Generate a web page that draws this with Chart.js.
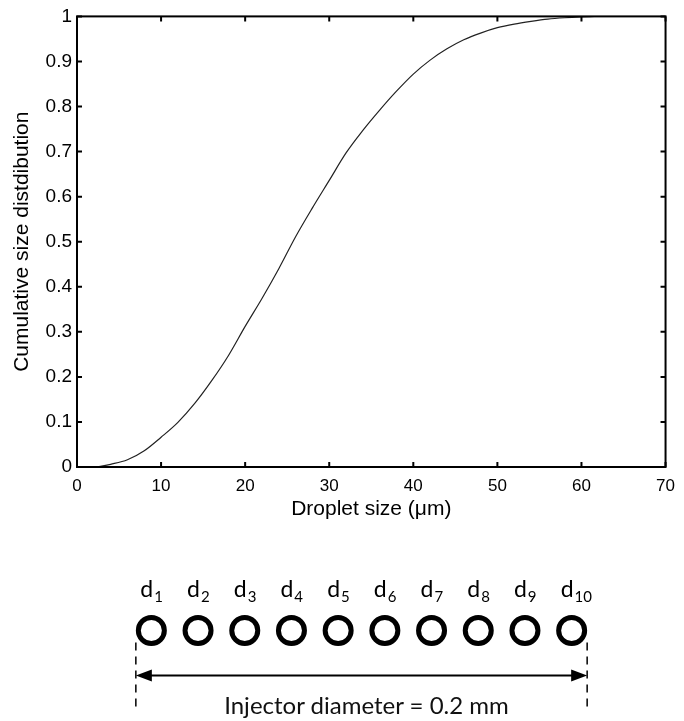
<!DOCTYPE html>
<html>
<head>
<meta charset="utf-8">
<script src="https://cdn.jsdelivr.net/npm/chart.js@4.4.1/dist/chart.umd.min.js"></script>
<style>
  body { margin: 0; background: #fff; }
  #wrap { position: relative; width: 684px; height: 721px; overflow: hidden; }
  #sizeChart { position: absolute; left: 0; top: 0; }
  #dropChart { position: absolute; left: 0; top: 540px; }
  #injLabel { position: absolute; left: 0; width: 733px; top: 693px; text-align: center;
              font: 24px Lato; line-height: 24px; color: #111; }
</style>
</head>
<body>
<div id="wrap">
  <canvas id="sizeChart" width="684" height="530"></canvas>
  <canvas id="dropChart" width="684" height="181"></canvas>
  <div id="injLabel">Injector diameter = 0.2 mm</div>
</div>
<script>
// cumulative droplet size distribution
const dropletSize = [2.4, 4, 6, 8, 10, 12, 14, 16, 18, 20, 22, 24, 26, 28, 30, 32, 34, 36, 38, 40,
                     42, 44, 46, 48, 50, 52, 54, 56, 58, 60, 61.5];
const cumulative = [0, 0.006, 0.016, 0.036, 0.066, 0.099, 0.141, 0.191, 0.247, 0.312, 0.374, 0.44,
                    0.511, 0.575, 0.636, 0.697, 0.747, 0.792, 0.834, 0.872, 0.903, 0.928, 0.948,
                    0.963, 0.975, 0.983, 0.989, 0.994, 0.997, 0.999, 1.0];
const xTicks = [0, 10, 20, 30, 40, 50, 60, 70];
const yTicks = [0, 0.1, 0.2, 0.3, 0.4, 0.5, 0.6, 0.7, 0.8, 0.9, 1];

// droplet row under the plot
const dropletIndex = [1, 2, 3, 4, 5, 6, 7, 8, 9, 10];
const dropletLabels = ['1', '2', '3', '4', '5', '6', '7', '8', '9', '10'];

const fontFamily = '"Liberation Sans", Arial, sans-serif';

// box around the plot plus inward ticks on all four sides
const frameTicks = {
  id: 'frameTicks',
  afterDraw(chart) {
    const { ctx, chartArea: a, scales: { x, y } } = chart;
    ctx.save();
    ctx.strokeStyle = '#000';
    ctx.lineWidth = 2;
    ctx.strokeRect(a.left, a.top, a.right - a.left, a.bottom - a.top);
    ctx.beginPath();
    xTicks.forEach(v => {
      const px = x.getPixelForValue(v);
      ctx.moveTo(px, a.bottom); ctx.lineTo(px, a.bottom - 5);
      ctx.moveTo(px, a.top); ctx.lineTo(px, a.top + 5);
    });
    yTicks.forEach(v => {
      const py = y.getPixelForValue(v);
      ctx.moveTo(a.left, py); ctx.lineTo(a.left + 5, py);
      ctx.moveTo(a.right, py); ctx.lineTo(a.right - 5, py);
    });
    ctx.stroke();
    ctx.restore();
  }
};

new Chart(document.getElementById('sizeChart'), {
  type: 'line',
  data: {
    datasets: [{
      data: dropletSize.map((v, i) => ({ x: v, y: cumulative[i] })),
      borderColor: '#222',
      borderWidth: 1.2,
      pointRadius: 0,
      cubicInterpolationMode: 'monotone',
      fill: false
    }]
  },
  options: {
    responsive: false,
    animation: false,
    events: [],
    layout: { padding: { left: 0, top: 15, right: 13, bottom: 0 } },
    plugins: { legend: { display: false }, tooltip: { enabled: false } },
    scales: {
      x: {
        type: 'linear', min: 0, max: 70,
        afterBuildTicks: s => { s.ticks = xTicks.map(v => ({ value: v })); },
        afterFit: s => { s.height = 63; },
        grid: { display: false, drawTicks: false },
        border: { display: false },
        ticks: { color: '#000', font: { family: fontFamily, size: 17 }, padding: 9, maxRotation: 0 },
        title: { display: true, text: 'Droplet size (\u03bcm)', color: '#000',
                 font: { family: fontFamily, size: 21 }, padding: { top: 0, bottom: 8 } }
      },
      y: {
        type: 'linear', min: 0, max: 1,
        afterBuildTicks: s => { s.ticks = yTicks.map(v => ({ value: v })); },
        afterFit: s => { s.width = 77; },
        grid: { display: false, drawTicks: false },
        border: { display: false },
        ticks: { color: '#000', font: { family: fontFamily, size: 19 }, padding: 5,
                 callback: v => String(+v.toFixed(1)) },
        title: { display: true, text: 'Cumulative size distdibution', color: '#000',
                 font: { family: fontFamily, size: 21 }, padding: { top: 10, bottom: 0 } }
      }
    }
  },
  plugins: [frameTicks]
});

// labels d1..d10, dashed end marks and the diameter arrow
const diagram = {
  id: 'diagram',
  afterDatasetsDraw(chart) {
    const { ctx, scales: { x, y } } = chart;
    const cy = y.getPixelForValue(0);
    const r = 15.5;
    ctx.save();
    ctx.fillStyle = '#000';
    ctx.textBaseline = 'alphabetic';
    dropletIndex.forEach((v, i) => {
      const px = x.getPixelForValue(v) - 11;
      ctx.font = '23px Lato';
      ctx.fillText('d', px, cy - 34);
      const w = ctx.measureText('d').width;
      ctx.font = '15px Lato';
      ctx.fillText(dropletLabels[i], px + w + 1, cy - 29);
    });

    const x0 = x.getPixelForValue(dropletIndex[0]) - r;
    const x1 = x.getPixelForValue(dropletIndex[dropletIndex.length - 1]) + r;
    ctx.strokeStyle = '#000';
    ctx.lineWidth = 1.5;
    ctx.setLineDash([8, 6]);
    ctx.beginPath();
    ctx.moveTo(x0, cy + 12); ctx.lineTo(x0, cy + 78);
    ctx.moveTo(x1, cy + 12); ctx.lineTo(x1, cy + 78);
    ctx.stroke();

    const ay = cy + 45;
    ctx.setLineDash([]);
    ctx.lineWidth = 2;
    ctx.beginPath();
    ctx.moveTo(x0 + 12, ay); ctx.lineTo(x1 - 12, ay);
    ctx.stroke();
    ctx.beginPath();
    ctx.moveTo(x0, ay); ctx.lineTo(x0 + 16, ay - 6); ctx.lineTo(x0 + 16, ay + 6); ctx.closePath();
    ctx.moveTo(x1, ay); ctx.lineTo(x1 - 16, ay - 6); ctx.lineTo(x1 - 16, ay + 6); ctx.closePath();
    ctx.fill();
    ctx.restore();
  }
};

new Chart(document.getElementById('dropChart'), {
  type: 'scatter',
  data: {
    datasets: [{
      data: dropletIndex.map(v => ({ x: v, y: 0 })),
      pointRadius: 13,
      pointBorderWidth: 5,
      pointBorderColor: '#000',
      pointBackgroundColor: 'rgba(0,0,0,0)'
    }]
  },
  options: {
    responsive: false,
    animation: false,
    events: [],
    layout: { padding: { left: 128, right: 89, top: 0, bottom: 1 } },
    plugins: { legend: { display: false }, tooltip: { enabled: false } },
    scales: {
      x: { type: 'linear', min: 0.5, max: 10.5, display: false },
      y: { type: 'linear', min: -1, max: 1, display: false }
    }
  },
  plugins: [diagram]
});
</script>
</body>
</html>
